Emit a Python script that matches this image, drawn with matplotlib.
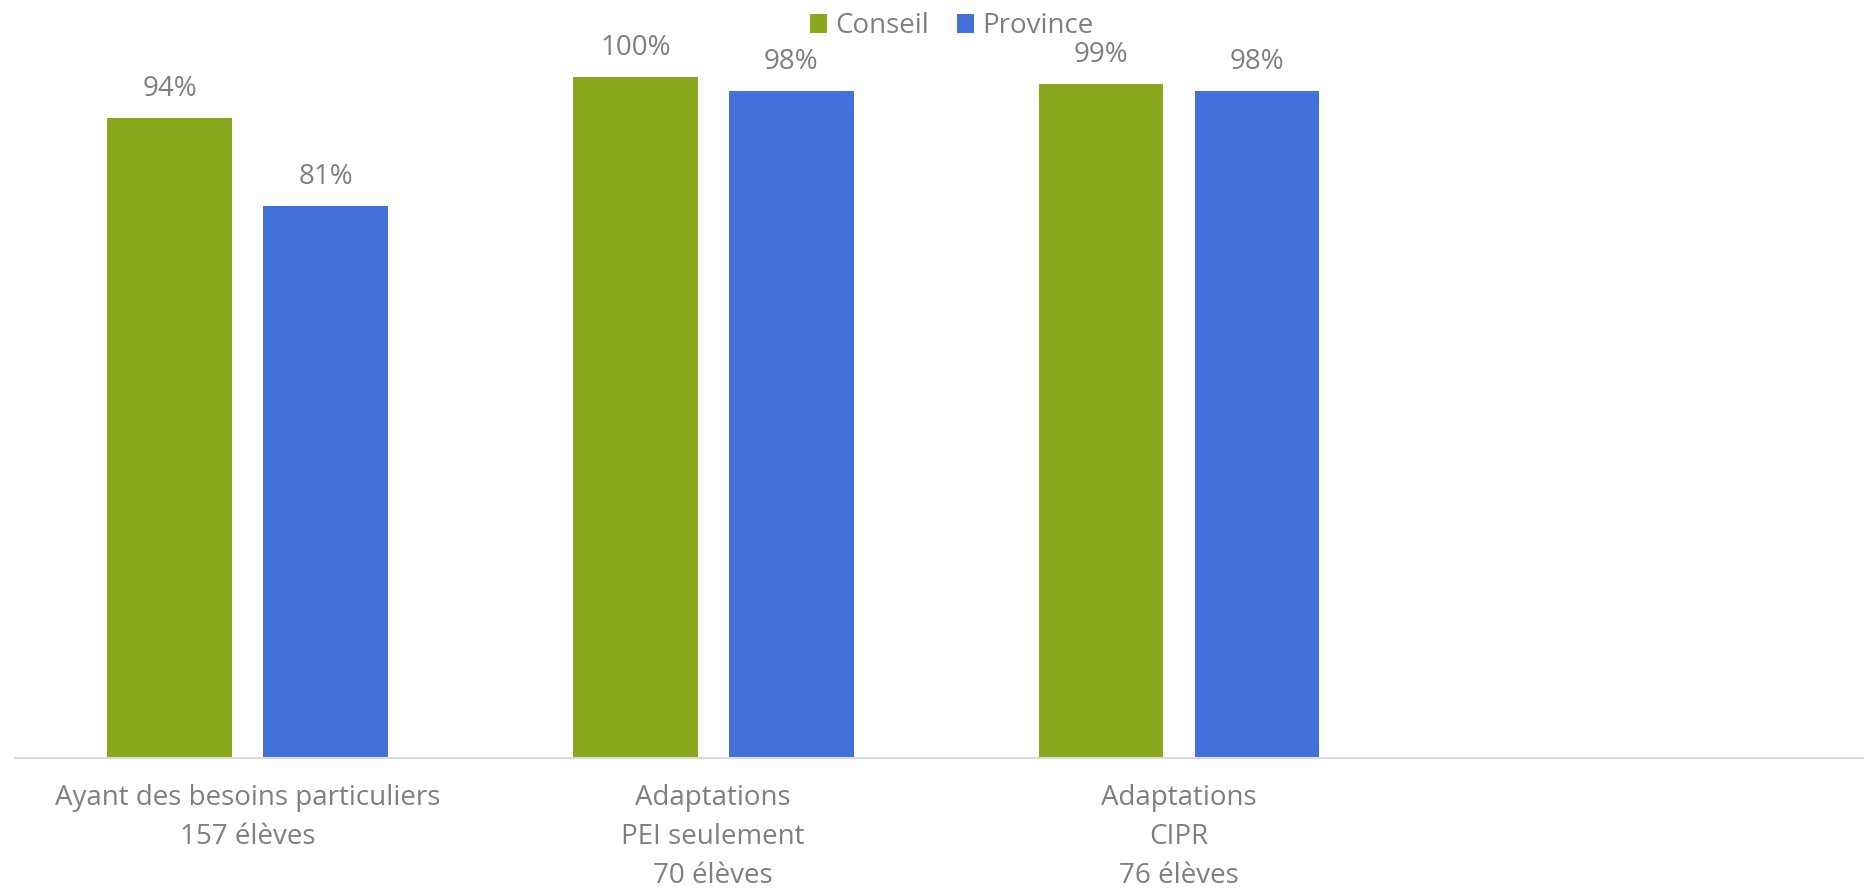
import matplotlib.pyplot as plt
import numpy as np

plt.rcParams['font.family'] = ['Open Sans', 'DejaVu Sans']

# Data
categories = ["Ayant des besoins particuliers\n157 élèves",
              "Adaptations\nPEI seulement\n70 élèves",
              "Adaptations\nCIPR\n76 élèves",
              ""]
conseil = [0.94, 1.00, 0.99, np.nan]
province = [0.81, 0.98, 0.98, np.nan]
series_names = ["Conseil", "Province"]

green = "#8aa81e"
blue = "#4470d9"
gray = "#7f7f7f"

fig = plt.figure(figsize=(18.65, 8.92), dpi=100)
ax = fig.add_axes([14.6 / 1865, 134 / 892, 1863 / 1865, 758 / 892])

index = np.arange(len(categories))
w = 0.268
off = 0.1675
b1 = ax.bar(index - off, conseil, w, color=green, label=series_names[0])
b2 = ax.bar(index + off, province, w, color=blue, label=series_names[1])

for bars, vals in [(b1, conseil), (b2, province)]:
    for rect, v in zip(bars, vals):
        if np.isnan(v):
            continue
        ax.annotate("{:.0f}%".format(v * 100),
                    (rect.get_x() + rect.get_width() / 2, v),
                    xytext=(0, 15), textcoords="offset pixels",
                    ha="center", va="bottom", fontsize=20, color=gray)

ax.set_xlim(-0.5, 3.5)
ax.set_ylim(0, 758 / 681)
ax.set_xticks(index)
ax.set_xticklabels(categories, fontsize=20, color=gray, linespacing=1.52)
ax.tick_params(axis="x", length=0, pad=19)
ax.set_yticks([])
for s in ["top", "right", "left"]:
    ax.spines[s].set_visible(False)
ax.spines["bottom"].set_color("#d9d9d9")
ax.spines["bottom"].set_linewidth(1.5)

leg = ax.legend(loc="upper center", bbox_to_anchor=(0.503, 1.017), ncol=2,
                frameon=False, fontsize=20, handlelength=0.6, handleheight=0.7,
                handletextpad=0.3, columnspacing=1.0)
for t in leg.get_texts():
    t.set_color(gray)

fig.savefig("out.png", dpi=100)
